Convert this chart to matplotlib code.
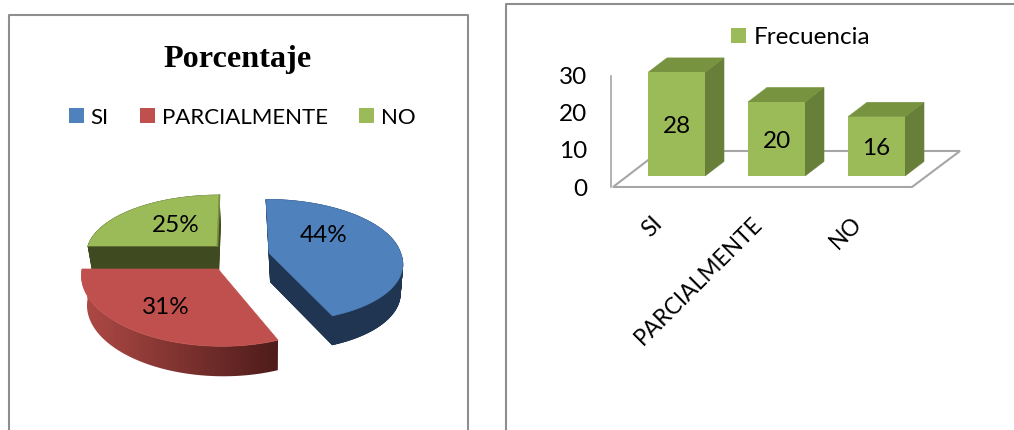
import numpy as np
import matplotlib
matplotlib.use("Agg")
import matplotlib.pyplot as plt
from matplotlib.patches import Patch, Polygon
from matplotlib.transforms import Affine2D

categorias = ["SI", "PARCIALMENTE", "NO"]
porcentaje = [44, 31, 25]
frecuencia = [28, 20, 16]

AZUL, ROJO, VERDE = "#4F81BD", "#C0504D", "#9BBB59"
W, H = 1014, 430
FUENTE = "Lato"
TAM = 16
TAM_NUM = 17.5

fig = plt.figure(figsize=(W / 100, H / 100), dpi=100, facecolor="white")

# Base layer in pixel units: panel frames and the exploded pie
base = fig.add_axes([0, 0, 1, 1])
base.set_xlim(0, W)
base.set_ylim(H, 0)
base.axis("off")

marco = dict(color="#8E8E8E", lw=1.5, solid_capstyle="butt")
base.plot([9, 9, 468, 468], [430, 15, 15, 430], **marco)
base.plot([506, 506, 1014], [430, 4, 4], **marco)

base.text(238, 59, "Porcentaje", family="Liberation Serif", weight="bold",
          size=23.2, ha="center", va="center")

# Projection of each slice: apex, radii, perspective strength, tilt, and thickness
geometria = [
    dict(cx=269, cy=253, rx=131.5, ry=60, k=0.12, tilt=-3.3, tilt_bajo=-8.5, dx=1.5, prof=29),
    dict(cx=218, cy=269, rx=136, ry=68, k=0.12, tilt=0.0, tilt_bajo=-3.5, dx=1.5, prof=30),
    dict(cx=217, cy=246, rx=129, ry=57, k=0.12, tilt=2.2, tilt_bajo=0.0, dx=1.5, prof=30),
]


def contorno(a0, a1, g, inferior=False):
    """Outline of a slice top (or its lower face) projected onto the page."""
    t = np.radians(np.linspace(a0, a1, 120))
    u, v = np.cos(t), np.sin(t)
    w = 1 + g["k"] * v
    f = 0.97 if inferior else 1.0
    x = g["rx"] * f * u / w + np.where(v > 0, g["tilt"], g["tilt_bajo"]) * v / w
    y = -g["ry"] * v / w
    ox = g["dx"] if inferior else 0
    oy = g["prof"] if inferior else 0
    xs = np.r_[g["cx"] + ox, g["cx"] + ox + x, g["cx"] + ox]
    ys = np.r_[g["cy"] + oy, g["cy"] + oy + y, g["cy"] + oy]
    return np.column_stack([xs, ys])


def caras_laterales(sup, inf):
    return [np.array([sup[i], sup[i + 1], inf[i + 1], inf[i]]) for i in range(len(sup) - 1)]


fin = 90 - 3.6 * np.cumsum(porcentaje)
inicio = np.r_[90, fin[:-1]]
colores_sup = [AZUL, ROJO, VERDE]
colores_lat = ["#1F3552", None, "#3F4A20"]
centros_txt = [(324, 236), (166, 308), (176, 225)]

for idx in [2, 0, 1]:
    g = geometria[idx]
    sup = contorno(inicio[idx], fin[idx], g)
    inf = contorno(inicio[idx], fin[idx], g, inferior=True)
    if colores_lat[idx] is not None:
        for q in caras_laterales(sup, inf):
            base.add_patch(Polygon(q, fc=colores_lat[idx], ec=colores_lat[idx], lw=0.6, zorder=2 + idx))
        base.add_patch(Polygon(inf, fc=colores_lat[idx], ec=colores_lat[idx], lw=0.5, zorder=2 + idx))
    else:
        # The curved rim of the red slice darkens from left to right
        rampa = np.linspace(0, 1, 256)[None, :, None]
        claro = np.array([176, 74, 70]) / 255
        oscuro = np.array([78, 28, 26]) / 255
        img = claro + (oscuro - claro) * rampa
        im = base.imshow(img, extent=(sup[:, 0].min(), sup[:, 0].max(), 385, 260),
                         aspect="auto", zorder=2 + idx, interpolation="bilinear")
        borde = np.vstack([sup[1:-1], inf[1:-1][::-1]])
        clip = Polygon(borde, transform=base.transData, fc="none", ec="none")
        base.add_patch(clip)
        im.set_clip_path(clip)
        base.set_xlim(0, W)
        base.set_ylim(H, 0)
    base.add_patch(Polygon(sup, fc=colores_sup[idx], ec=colores_sup[idx], lw=0.5, zorder=3 + idx))
    base.text(*centros_txt[idx], f"{porcentaje[idx]}%", family=FUENTE, size=TAM_NUM,
              ha="center", va="center", zorder=8)

# Thin shaded edge along the green slice's straight side
base.plot([217.5, 219.5], [246, 195], color="#76923C", lw=1.2, zorder=6)

mano = [Patch(fc=c, ec="none") for c in colores_sup]
base.legend(mano, categorias, loc="center left", bbox_to_anchor=(69, 117.5),
            bbox_transform=base.transData, ncol=3, frameon=False, borderpad=0,
            borderaxespad=0, handlelength=0.68, handleheight=0.68, handletextpad=0.3,
            columnspacing=1.4, prop=dict(family=FUENTE, size=TAM))

# Floor of the column chart, behind the axes layer
piso = [(613, 187), (912, 187), (960, 151), (660, 151)]
base.add_patch(Polygon(piso, closed=True, fc="white", ec="#A6A6A6", lw=1.5, zorder=1))

# Column chart: y spans 0 to 30 between pixel rows 187 and 76
x0, x1 = 611, 960
y0, y30 = 187, 76
ax = fig.add_axes([x0 / W, 1 - y0 / H, (x1 - x0) / W, (y0 - y30) / H], facecolor="none")
ancho_cat = 100
xcat = np.arange(len(categorias))
ax.set_xlim((x0 - 676.5) / ancho_cat, (x1 - 676.5) / ancho_cat)
ax.set_ylim(0, 30)
for s in ["top", "right", "bottom"]:
    ax.spines[s].set_visible(False)
ax.spines["left"].set_color("#A6A6A6")
ax.spines["left"].set_linewidth(1.2)

ax.set_yticks([0, 10, 20, 30])
ax.tick_params(axis="y", length=0, pad=17, labelsize=TAM_NUM)
ax.tick_params(axis="x", length=0, pad=18, labelsize=16.4)
ax.set_xticks(xcat, categorias, rotation=45, ha="right", va="top", rotation_mode="anchor")
for t in ax.get_xticklabels() + ax.get_yticklabels():
    t.set_family(FUENTE)
for t in ax.get_xticklabels():
    t.set_transform(t.get_transform() + Affine2D().translate(-25, -1))

# Columns stand a little inside the floor, so they all shift up by the same amount
trans = ax.transData + Affine2D().translate(0, 11)
trans_txt = trans + Affine2D().translate(0, -2)
media = 0.57
fondo_x = 0.19
fondo_y = 14.5 / 3.7
for xi, val in zip(xcat, frecuencia):
    izq, der = xi - media / 2, xi + media / 2
    ax.bar(xi, val, media, color=VERDE, transform=trans, clip_on=False, zorder=4)
    ax.add_patch(Polygon([(der, 0), (der + fondo_x, fondo_y), (der + fondo_x, val + fondo_y), (der, val)],
                         fc="#677F38", ec="#677F38", lw=0.4, transform=trans, clip_on=False, zorder=3))
    ax.add_patch(Polygon([(izq, val), (der, val), (der + fondo_x, val + fondo_y), (izq + fondo_x, val + fondo_y)],
                         fc="#77933F", ec="#77933F", lw=0.4, transform=trans, clip_on=False, zorder=3))
    ax.text(xi, val / 2, str(val), family=FUENTE, size=TAM_NUM, ha="center", va="center",
            transform=trans_txt, zorder=6)

ax.legend([Patch(fc=VERDE, ec="none")], ["Frecuencia"], loc="center left",
          bbox_to_anchor=(731 / W, 1 - 37.5 / H), bbox_transform=fig.transFigure,
          frameon=False, borderpad=0, borderaxespad=0, handlelength=0.62, handleheight=0.62,
          handletextpad=0.3, prop=dict(family=FUENTE, size=TAM_NUM))

fig.savefig("out.png", dpi=100)
